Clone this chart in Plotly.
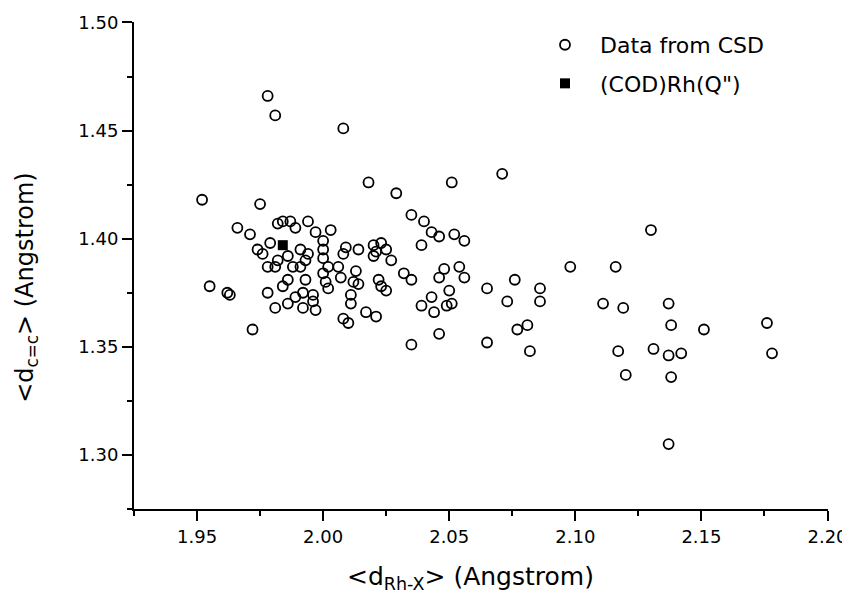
import plotly.graph_objects as go

# Data from CSD: <d_Rh-X> (x) and <d_C=C> (y), Angstrom
csd_x = [1.978, 1.981, 2.008, 2.071, 2.051, 2.018, 2.029, 1.952, 1.975, 2.130,
         2.035, 2.040, 2.043, 2.046, 2.052, 2.056, 2.039, 2.054, 2.048, 2.046,
         2.056, 2.035, 2.098, 2.076, 2.065, 2.050, 2.086, 2.043, 2.051, 2.073,
         2.086, 2.111, 2.039, 2.049, 2.044, 2.081, 2.077, 2.046, 2.065, 2.082,
         2.035, 2.116, 2.119, 2.137, 2.138, 2.151, 2.176, 2.178, 2.117, 2.131,
         2.137, 2.142, 2.120, 2.138, 2.137, 1.994, 1.997, 2.003, 2.000, 2.000,
         2.000, 1.994, 1.991, 2.009, 2.008, 2.014, 2.020, 2.023, 2.025, 2.020,
         2.021, 2.027, 2.006, 2.002, 2.000, 2.007, 2.013, 2.001, 2.002, 2.012,
         2.014, 2.011, 2.011, 2.022, 2.023, 2.025, 2.032, 2.017, 2.021, 2.008,
         2.010, 1.996, 1.992, 1.992, 1.997, 1.996, 1.966, 1.971, 1.982, 1.984,
         1.987, 1.989, 1.979, 1.974, 1.976, 1.982, 1.978, 1.981, 1.986, 1.988,
         1.993, 1.991, 1.955, 1.962, 1.963, 1.978, 1.984, 1.986, 1.993, 1.989,
         1.986, 1.981, 1.972]
csd_y = [1.466, 1.457, 1.451, 1.430, 1.426, 1.426, 1.421, 1.418, 1.416, 1.404,
         1.411, 1.408, 1.403, 1.401, 1.402, 1.399, 1.397, 1.387, 1.386, 1.382,
         1.382, 1.381, 1.387, 1.381, 1.377, 1.376, 1.377, 1.373, 1.370, 1.371,
         1.371, 1.370, 1.369, 1.369, 1.366, 1.360, 1.358, 1.356, 1.352, 1.348,
         1.351, 1.387, 1.368, 1.370, 1.360, 1.358, 1.361, 1.347, 1.348, 1.349,
         1.346, 1.347, 1.337, 1.336, 1.305, 1.408, 1.403, 1.404, 1.399, 1.395,
         1.391, 1.393, 1.395, 1.396, 1.393, 1.395, 1.397, 1.398, 1.395, 1.392,
         1.394, 1.390, 1.387, 1.387, 1.384, 1.382, 1.385, 1.380, 1.377, 1.380,
         1.379, 1.374, 1.370, 1.381, 1.378, 1.376, 1.384, 1.366, 1.364, 1.363,
         1.361, 1.374, 1.375, 1.368, 1.367, 1.371, 1.405, 1.402, 1.407, 1.408,
         1.408, 1.405, 1.398, 1.395, 1.393, 1.390, 1.387, 1.387, 1.392, 1.387,
         1.390, 1.387, 1.378, 1.375, 1.374, 1.375, 1.378, 1.381, 1.381, 1.373,
         1.370, 1.368, 1.358]

# (COD)Rh(Q'') point
cod_x = [1.984]
cod_y = [1.397]

x_ticks = [1.95, 2.00, 2.05, 2.10, 2.15, 2.20]
x_ticktext = ["1.95", "2.00", "2.05", "2.10", "2.15", "2.20"]
y_ticks = [1.30, 1.35, 1.40, 1.45, 1.50]
y_ticktext = ["1.30", "1.35", "1.40", "1.45", "1.50"]

FONT = "DejaVu Sans"

fig = go.Figure()
fig.add_trace(go.Scatter(
    x=csd_x, y=csd_y, mode="markers", name="Data from CSD",
    legendgroup="a",
    marker=dict(symbol="circle-open", size=10, color="black",
                line=dict(width=1.8, color="black")),
))
fig.add_trace(go.Scatter(
    x=cod_x, y=cod_y, mode="markers", name="(COD)Rh(Q\")",
    legendgroup="b",
    marker=dict(symbol="square", size=10, color="black"),
))

axis_common = dict(
    showline=True, linecolor="black", linewidth=2,
    ticks="outside", ticklen=10, tickwidth=2, tickcolor="black",
    showgrid=False, zeroline=False, mirror=False, automargin=False,
    tickfont=dict(family=FONT, size=18, color="black"),
)

fig.update_xaxes(
    range=[1.925, 2.2002], tickmode="array", tickvals=x_ticks, ticktext=x_ticktext,
    minor=dict(ticks="outside", ticklen=5, tickwidth=2, tickcolor="black",
               dtick=0.025, tick0=1.925, showgrid=False),
    **axis_common,
)
fig.update_yaxes(
    range=[1.275, 1.5002], tickmode="array", tickvals=y_ticks, ticktext=y_ticktext,
    minor=dict(ticks="outside", ticklen=5, tickwidth=2, tickcolor="black",
               dtick=0.025, tick0=1.275, showgrid=False),
    **axis_common,
)

fig.add_annotation(
    text="&lt;d<sub>c=c</sub>&gt; (Angstrom)", textangle=-90,
    xref="paper", yref="paper", x=-0.155, y=0.455,
    xanchor="center", yanchor="middle", showarrow=False,
    font=dict(family=FONT, size=24, color="black"),
)
fig.add_annotation(
    text="&lt;d<sub>Rh-X</sub>&gt; (Angstrom)",
    xref="paper", yref="paper", x=0.485, y=-0.141,
    xanchor="center", yanchor="middle", showarrow=False,
    font=dict(family=FONT, size=25, color="black"),
)

# The page body has an 8px default margin, so the figure is sized to fit the window.
fig.update_layout(
    width=842, height=587,
    margin=dict(l=126, r=22, t=14, b=86, autoexpand=False),
    paper_bgcolor="white", plot_bgcolor="white",
    showlegend=True,
    legend=dict(
        x=0.5706, y=0.996, xanchor="left", yanchor="top",
        font=dict(family=FONT, size=22, color="black"),
        bgcolor="rgba(0,0,0,0)", tracegroupgap=7, itemwidth=60,
    ),
    font=dict(family=FONT, color="black"),
)

fig.write_html("out.html")
